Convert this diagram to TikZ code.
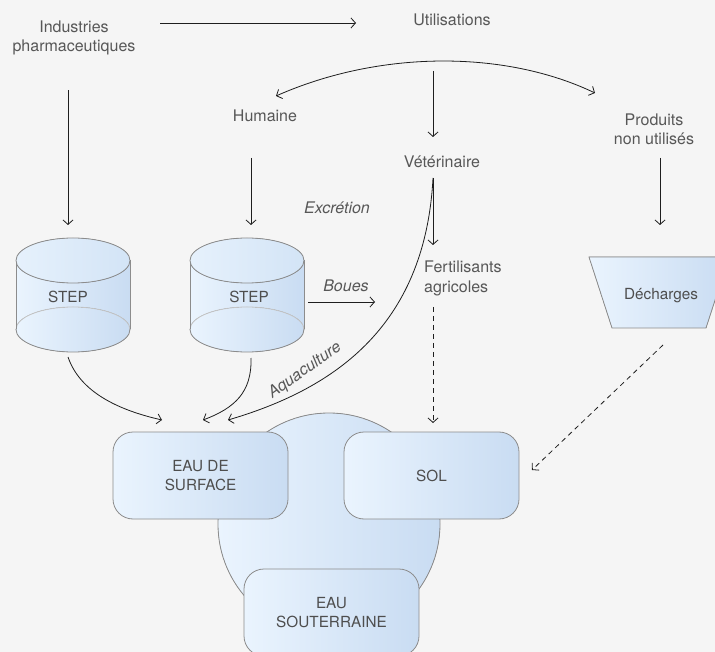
\documentclass[tikz,border=0pt]{standalone}
\usepackage{fontspec}
\setmainfont{TeX Gyre Heros}
\usetikzlibrary{arrows.meta}
\definecolor{bgc}{HTML}{F5F5F5}
\definecolor{txtc}{HTML}{575757}
\definecolor{boxtxt}{HTML}{4E4E4E}
\definecolor{linec}{HTML}{1E1E1E}
\definecolor{bordc}{HTML}{8C8C8C}
\definecolor{backc}{HTML}{C4C4C4}
\definecolor{shL}{HTML}{EAF4FE}
\definecolor{shR}{HTML}{C9DCF2}
\definecolor{topL}{HTML}{E6F1FC}
\definecolor{topR}{HTML}{D3E4F6}
\newcommand{\drawcyl}[1]{%
  \fill[left color=shL, right color=shR] (#1-57,260.5) rectangle (#1+57,329.5);
  \fill[left color=shL, right color=shR] (#1,329.5) ellipse [x radius=57pt, y radius=22.5pt];
  \begin{scope}
    \clip (#1-60,300) rectangle (#1+60,329.5);
    \draw[draw=backc, line width=0.8pt] (#1,329.5) ellipse [x radius=57pt, y radius=22.5pt];
  \end{scope}
  \begin{scope}
    \clip (#1-60,329.5) rectangle (#1+60,360);
    \draw[bord] (#1,329.5) ellipse [x radius=57pt, y radius=22.5pt];
  \end{scope}
  \draw[bord] (#1-57,260.5) -- (#1-57,329.5) (#1+57,260.5) -- (#1+57,329.5);
  \filldraw[bord, left color=topL, right color=topR] (#1,260.5) ellipse [x radius=57pt, y radius=22.5pt];
}
\begin{document}
\begin{tikzpicture}[x=1pt, y=-1pt,
  txt/.style={font=\fontsize{16}{19.4}\selectfont, text=txtc, align=center, inner sep=0pt},
  lab/.style={font=\fontsize{16}{19.4}\selectfont\itshape, text=txtc, inner sep=0pt},
  bord/.style={draw=bordc, line width=0.8pt},
  box/.style={draw=bordc, line width=0.8pt, rounded corners=20pt, left color=shL, right color=shR,
    minimum width=175pt, minimum height=87pt, inner sep=0pt, align=center,
    font=\fontsize{15.3}{19.4}\selectfont, text=boxtxt},
  shapelab/.style={font=\fontsize{15.3}{19.4}\selectfont, text=boxtxt, inner sep=0pt},
  arr/.style={draw=linec, line width=0.8pt, -{Straight Barb[length=4.5pt,width=10pt]}},
  arrboth/.style={draw=linec, line width=0.8pt, {Straight Barb[length=4.5pt,width=10pt]}-{Straight Barb[length=4.5pt,width=10pt]}},
  darr/.style={arr, dash pattern=on 5pt off 4pt}
]
\useasboundingbox (0,0) rectangle (715,652);
\fill[bgc] (0,0) rectangle (715,652);
\clip (0,0) rectangle (715,652);

% water / soil zone
\filldraw[bord, left color=shL, right color=shR] (329,524) circle [radius=111pt];
\node[box] (surf) at (200.5,475.5) {EAU DE\\SURFACE};
\node[box] (sol) at (431.5,475.5) {SOL};
\node[box] (sout) at (331.5,612.5) {EAU\\SOUTERRAINE};

% STEP cylinders
\drawcyl{73}
\drawcyl{247}
\node[shapelab] (stepL) at (68,296.5) {STEP};
\node[shapelab] (stepR) at (249,296.5) {STEP};

% Decharges
\filldraw[bord, left color=shL, right color=shR] (589,257) -- (729,257) -- (706,328) -- (612,328) -- cycle;
\node[shapelab] (dech) at (661,296) {Décharges};

% texts
\node[txt] (ind) at (74,38) {Industries\\pharmaceutiques};
\node[txt] (util) at (452,19.5) {Utilisations};
\node[txt] (hum) at (265,115.5) {Humaine};
\node[txt] (vet) at (442,161.5) {Vétérinaire};
\node[txt] (prod) at (654,129) {Produits\\non utilisés};
\node[txt, align=left, anchor=west] (fert) at (424,278.5) {Fertilisants\\agricoles};
\node[lab] (excr) at (337,208) {Excrétion};
\node[lab] (boues) at (346,286) {Boues};
\node[lab, rotate=35] (aqua) at (305,370.5) {Aquaculture};

% connector end points
\coordinate (indR) at (160,23);
\coordinate (utilL) at (356,23);
\coordinate (arcL) at (276,96);
\coordinate (arcR) at (595,93);
\coordinate (utilB) at (433,71);
\coordinate (vetT) at (433,137);
\coordinate (indB) at (68,90.5);
\coordinate (stepLT) at (68,225);
\coordinate (humB) at (251,158);
\coordinate (stepRT) at (251,225);
\coordinate (prodB) at (660,158);
\coordinate (dechT) at (660,225);
\coordinate (vetB) at (433,178);
\coordinate (fertT) at (433,245);
\coordinate (surfA) at (228,420);
\coordinate (stepRE) at (308,302);
\coordinate (bouesE) at (375,302);
\coordinate (fertB) at (433,307);
\coordinate (solT) at (433,423);
\coordinate (dechB) at (663,345);
\coordinate (solR) at (532,470);
\coordinate (stepLB) at (68,357);
\coordinate (surfL) at (162,420);
\coordinate (stepRB) at (251,358);
\coordinate (surfM) at (203,420);

% connectors
\draw[arr] (indR) -- (utilL);
\draw[arrboth] (arcL) .. controls (380,50) and (505,50) .. (arcR);
\draw[arr] (utilB) -- (vetT);
\draw[arr] (indB) -- (stepLT);
\draw[arr] (humB) -- (stepRT);
\draw[arr] (prodB) -- (dechT);
\draw[arr] (vetB) -- (fertT);
\draw[arr] (vetB) .. controls (425,330) and (330,390) .. (surfA);
\draw[arr] (stepRE) -- (bouesE);
\draw[darr] (fertB) -- (solT);
\draw[darr] (dechB) -- (solR);
\draw[arr] (stepLB) .. controls (80,392) and (118,410) .. (surfL);
\draw[arr] (stepRB) .. controls (252,392) and (235,408) .. (surfM);
\end{tikzpicture}
\end{document}
